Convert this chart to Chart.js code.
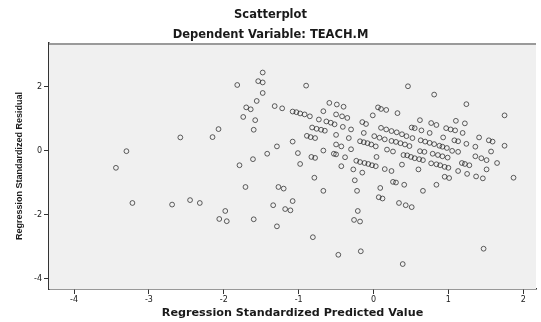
<!DOCTYPE html>
<html>
<head>
<meta charset="utf-8">
<script src="https://cdn.jsdelivr.net/npm/chart.js@4"></script>
<style>
  html, body { margin: 0; padding: 0; background: #ffffff; }
  #box { width: 541px; height: 322px; }
</style>
</head>
<body>
<div id="box"><canvas id="scatter"></canvas></div>
<script>
//Titles
const chartTitle = "Scatterplot";
const chartSubtitle = "Dependent Variable: TEACH.M";
const xTitle = "Regression Standardized Predicted Value";
const yTitle = "Regression Standardized Residual";

//Tick labels on each axis
const xTicks = [-4, -3, -2, -1, 0, 1, 2];
const yTicks = [-4, -2, 0, 2];

//Predicted values (x) and residuals (y)
const xValues = [
  -3.44, -3.30, -3.22, -2.69, -2.58, -2.45, -2.32, -2.15, -2.07, -1.98,
  -2.06, -1.96, -1.82, -1.79, -1.74, -1.71, -1.70, -1.64, -1.61, -1.60,
  -1.60, -1.58, -1.56, -1.54, -1.48, -1.48, -1.48, -1.42, -1.34, -1.32,
  -1.29, -1.29, -1.27, -1.22, -1.20, -1.18, -1.11, -1.08, -1.08, -1.08,
  -1.03, -0.98, -0.92, -0.85, -1.01, -0.98, -0.90, -0.89, -0.84, -0.78,
  -0.83, -0.78, -0.82, -0.76, -0.70, -0.65, -0.81, -0.79, -0.73, -0.67,
  -0.67, -0.67, -0.63, -0.57, -0.52, -0.59, -0.49, -0.40, -0.53, -0.50,
  -0.50, -0.42, -0.35, -0.50, -0.50, -0.43, -0.47, -0.43, -0.41, -0.38,
  -0.33, -0.30, -0.30, -0.27, -0.26, -0.25, -0.23, -0.18, -0.12, -0.07,
  -0.02, 0.03, -0.22, -0.21, -0.18, -0.18, -0.13, -0.08, -0.03, 0.03,
  -0.17, -0.15, -0.10, -0.15, -0.13, -0.01, 0.01, 0.08, 0.15, 0.04,
  0.06, 0.10, 0.17, 0.07, 0.12, 0.09, 0.10, 0.17, 0.24, 0.31,
  0.38, 0.44, 0.52, 0.15, 0.24, 0.18, 0.26, 0.24, 0.30, 0.36,
  0.42, 0.48, 0.26, 0.30, 0.41, 0.32, 0.34, 0.43, 0.51, 0.38,
  0.39, 0.40, 0.45, 0.50, 0.55, 0.61, 0.66, 0.46, 0.51, 0.55,
  0.60, 0.62, 0.62, 0.68, 0.63, 0.69, 0.75, 0.81, 0.88, 0.92,
  0.98, 0.64, 0.66, 0.75, 0.77, 0.84, 0.79, 0.86, 0.92, 0.99,
  0.77, 0.84, 0.89, 0.95, 1.00, 0.81, 0.84, 0.93, 0.95, 1.01,
  0.97, 1.03, 1.09, 1.05, 1.13, 1.08, 1.13, 1.10, 1.13, 1.18,
  1.22, 1.28, 1.19, 1.22, 1.24, 1.24, 1.25, 1.36, 1.44, 1.51,
  1.36, 1.37, 1.46, 1.41, 1.47, 1.51, 1.54, 1.59, 1.57, 1.65,
  1.75, 1.75, 1.87
];
const yValues = [
  -0.53, -0.01, -1.63, -1.68, 0.42, -1.54, -1.63, 0.43, 0.68, -1.88,
  -2.13, -2.20, 2.06, -0.45, 1.06, -1.13, 1.36, 1.30, -0.26, 0.66,
  -2.14, 0.96, 1.56, 2.18, 2.45, 2.14, 1.81, -0.09, -1.70, 1.40,
  0.14, -2.36, -1.13, 1.33, -1.18, -1.82, -1.86, -1.57, 0.29, 1.23,
  1.21, 1.17, 1.14, 1.08, -0.07, -0.41, 2.04, 0.47, 0.43, 0.40,
  -0.19, -0.22, 0.73, 0.69, 0.66, 0.63, -2.70, -0.84, 0.98, 1.24,
  0.01, -1.25, 0.92, 0.88, 0.83, 1.50, 1.45, 1.38, -0.09, -0.11,
  1.14, 1.08, 1.03, 0.50, 0.20, 0.14, -3.25, -0.48, 0.75, -0.20,
  0.40, 0.05, 0.67, -0.58, -2.16, -0.92, -0.31, -0.35, -0.38, -0.41,
  -0.45, -0.48, -1.25, -1.88, -2.21, 0.30, 0.27, 0.24, 0.20, 0.14,
  -3.14, 0.90, 0.84, -0.68, 0.56, 1.11, 0.46, 0.41, 0.36, -0.19,
  1.36, 1.31, 1.28, -1.45, -1.49, -1.16, 0.72, 0.67, 0.62, 0.58,
  0.52, 0.46, 0.40, -0.57, -0.63, 0.04, -0.02, 0.31, 0.28, 0.24,
  0.20, 0.15, -0.97, -0.99, -1.06, 1.18, -1.63, -1.70, -1.76, -0.43,
  -3.54, -0.13, -0.14, -0.19, -0.23, -0.26, -0.29, 2.02, 0.73, 0.71,
  -0.58, 0.96, -0.01, -0.03, 0.33, 0.29, 0.25, 0.21, 0.16, 0.13,
  0.09, 0.64, -1.25, 0.56, 0.87, 0.81, -0.09, -0.13, -0.17, -0.21,
  -0.39, -0.42, -0.45, -0.50, -0.53, 1.76, -1.06, 0.42, -0.81, -0.85,
  0.71, 0.67, 0.64, 0.00, -0.03, 0.33, 0.30, 0.94, -0.63, -0.38,
  -0.41, -0.45, 0.56, 0.86, 1.46, 0.22, -0.72, -0.17, -0.23, -0.29,
  0.13, -0.80, -0.86, 0.42, -3.06, -0.58, 0.33, 0.29, -0.02, -0.38,
  1.11, 0.16, -0.84
];

//Build point list for chart
const points = [];
for (let i = 0; i < xValues.length; i++) {
  points.push({ x: xValues[i], y: yValues[i] });
}

const textColor = "#1a1a1a";
const sansWide = "'DejaVu Sans', 'Liberation Sans', sans-serif";
const sansArial = "'Liberation Sans', Arial, sans-serif";
const tickFont = { family: sansWide, size: 8 };

//Grey plot background and grey top frame line
const plotFrame = {
  id: "plotFrame",
  beforeDatasetsDraw(chart) {
    const { ctx, chartArea } = chart;
    ctx.save();
    ctx.fillStyle = "#f0f0f0";
    ctx.fillRect(chartArea.left, chartArea.top, chartArea.right - chartArea.left, chartArea.bottom - chartArea.top);
    ctx.strokeStyle = "#9a9a9a";
    ctx.lineWidth = 2;
    ctx.beginPath();
    ctx.moveTo(chartArea.left, chartArea.top + 1);
    ctx.lineTo(chartArea.right, chartArea.top + 1);
    ctx.stroke();
    ctx.restore();
  }
};

new Chart(document.getElementById("scatter"), {
  type: "scatter",
  plugins: [plotFrame],
  data: {
    datasets: [{
      data: points,
      pointStyle: "circle",
      pointRadius: 2.4,
      borderWidth: 1,
      borderColor: "rgba(30,30,30,0.7)",
      backgroundColor: "rgba(0,0,0,0)"
    }]
  },
  options: {
    responsive: true,
    maintainAspectRatio: false,
    animation: false,
    layout: { padding: 0 },
    plugins: {
      legend: { display: false },
      tooltip: { enabled: false },
      title: {
        display: true,
        text: chartTitle,
        color: textColor,
        font: { family: sansWide, size: 11.5, weight: "bold" },
        padding: { top: 8, bottom: 2 }
      },
      subtitle: {
        display: true,
        text: chartSubtitle,
        color: textColor,
        font: { family: sansWide, size: 11.5, weight: "bold" },
        padding: { top: 4, bottom: 1.5 }
      }
    },
    scales: {
      x: {
        type: "linear",
        min: -4.334,
        max: 2.17,
        afterFit: (scale) => { scale.height = 33; },
        afterBuildTicks: (scale) => { scale.ticks = xTicks.map(v => ({ value: v })); },
        border: { display: true, color: "#333333", width: 1.5 },
        grid: { drawOnChartArea: false, drawTicks: true, tickLength: 5, color: "#333333" },
        ticks: { color: textColor, font: tickFont, padding: 1, maxRotation: 0 },
        title: {
          display: true,
          text: xTitle,
          color: textColor,
          font: { family: sansWide, size: 11.2, weight: "bold" },
          padding: { top: 0, bottom: 1.8 }
        }
      },
      y: {
        type: "linear",
        min: -4.32,
        max: 3.37,
        afterFit: (scale) => { scale.width = 49; },
        afterBuildTicks: (scale) => { scale.ticks = yTicks.map(v => ({ value: v })); },
        border: { display: true, color: "#333333", width: 1.5 },
        grid: { drawOnChartArea: false, drawTicks: true, tickLength: 5, color: "#333333" },
        ticks: { color: textColor, font: tickFont, padding: 2 },
        title: {
          display: true,
          text: yTitle,
          color: textColor,
          font: { family: sansArial, size: 9, weight: "bold" },
          padding: { top: 14, bottom: 0 }
        }
      }
    }
  }
});
</script>
</body>
</html>
